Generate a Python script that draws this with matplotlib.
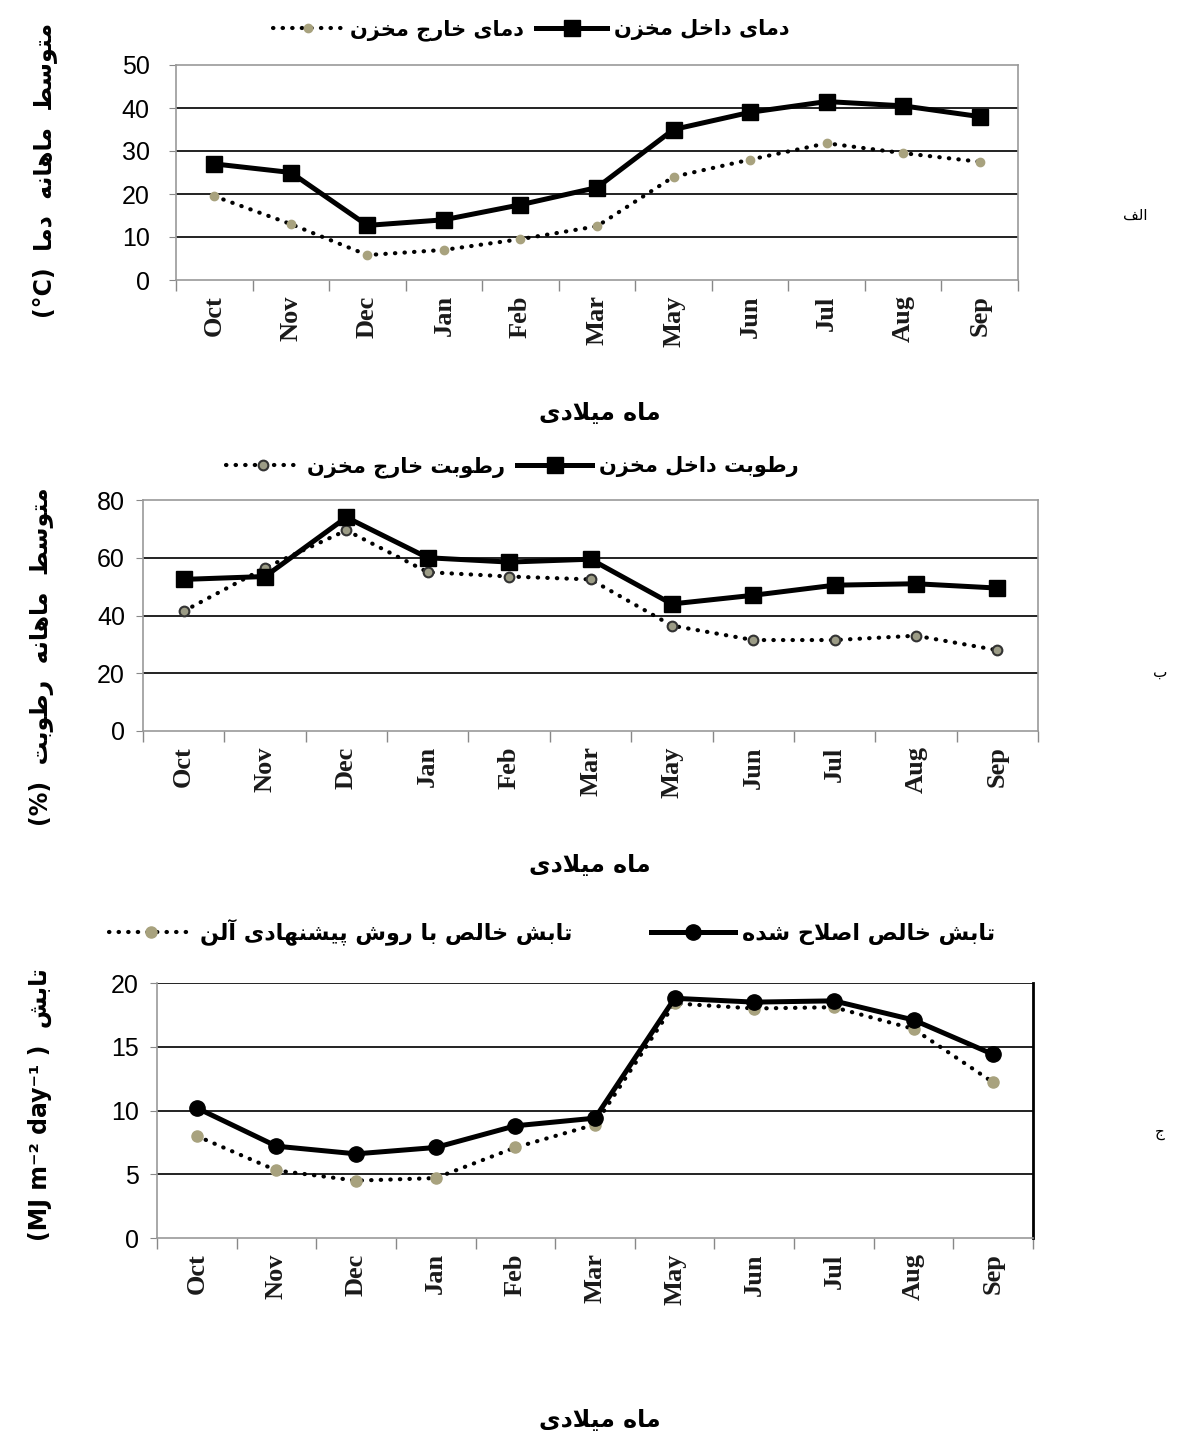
import numpy as np
import matplotlib
matplotlib.use('Agg')
import matplotlib.pyplot as plt
from matplotlib.lines import Line2D

# ---- data ----
months = ['Oct', 'Nov', 'Dec', 'Jan', 'Feb', 'Mar', 'May', 'Jun', 'Jul', 'Aug', 'Sep']

temp_in = [27, 25, 12.7, 14, 17.5, 21.5, 35, 39, 41.5, 40.5, 38]
temp_out = [19.5, 13, 5.8, 7, 9.5, 12.5, 24, 28, 31.8, 29.5, 27.5]
temp_ticks = [0, 10, 20, 30, 40, 50]

hum_in = [52.5, 53.5, 74, 60, 58.5, 59.5, 44, 47, 50.5, 51, 49.5]
hum_out = [41.5, 56.5, 69.5, 55, 53.5, 52.5, 36.5, 31.5, 31.5, 33, 28]
hum_ticks = [0, 20, 40, 60, 80]

rad_corr = [10.2, 7.2, 6.6, 7.1, 8.8, 9.4, 18.8, 18.5, 18.6, 17.1, 14.4]
rad_allen = [8.0, 5.3, 4.5, 4.7, 7.1, 8.9, 18.4, 18.0, 18.1, 16.4, 12.2]
rad_ticks = [0, 5, 10, 15, 20]

# ---- small persian shaper (matplotlib has no rtl shaping) ----
FORMS = {
    '\u0627': ('\uFE8D', '\uFE8E', None, None),
    '\u0622': ('\uFE81', '\uFE82', None, None),
    '\u0628': ('\uFE8F', '\uFE90', '\uFE91', '\uFE92'),
    '\u067E': ('\uFB56', '\uFB57', '\uFB58', '\uFB59'),
    '\u062A': ('\uFE95', '\uFE96', '\uFE97', '\uFE98'),
    '\u062C': ('\uFE9D', '\uFE9E', '\uFE9F', '\uFEA0'),
    '\u062D': ('\uFEA1', '\uFEA2', '\uFEA3', '\uFEA4'),
    '\u062E': ('\uFEA5', '\uFEA6', '\uFEA7', '\uFEA8'),
    '\u062F': ('\uFEA9', '\uFEAA', None, None),
    '\u0631': ('\uFEAD', '\uFEAE', None, None),
    '\u0632': ('\uFEAF', '\uFEB0', None, None),
    '\u0633': ('\uFEB1', '\uFEB2', '\uFEB3', '\uFEB4'),
    '\u0634': ('\uFEB5', '\uFEB6', '\uFEB7', '\uFEB8'),
    '\u0635': ('\uFEB9', '\uFEBA', '\uFEBB', '\uFEBC'),
    '\u0637': ('\uFEC1', '\uFEC2', '\uFEC3', '\uFEC4'),
    '\u0641': ('\uFED1', '\uFED2', '\uFED3', '\uFED4'),
    '\u0644': ('\uFEDD', '\uFEDE', '\uFEDF', '\uFEE0'),
    '\u0645': ('\uFEE1', '\uFEE2', '\uFEE3', '\uFEE4'),
    '\u0646': ('\uFEE5', '\uFEE6', '\uFEE7', '\uFEE8'),
    '\u0647': ('\uFEE9', '\uFEEA', '\uFEEB', '\uFEEC'),
    '\u0648': ('\uFEED', '\uFEEE', None, None),
    '\u06CC': ('\uFBFC', '\uFBFD', '\uFBFE', '\uFBFF'),
}
LAMALEF = {'\u0627': ('\uFEFB', '\uFEFC'), '\u0622': ('\uFEF5', '\uFEF6')}


def shape(text):
    out = []
    prev = False
    i = 0
    while i < len(text):
        c = text[i]
        if c not in FORMS:
            out.append(c)
            prev = False
            i += 1
            continue
        nxt = text[i + 1] if i + 1 < len(text) else ''
        if c == '\u0644' and nxt in LAMALEF:
            out.append(LAMALEF[nxt][1] if prev else LAMALEF[nxt][0])
            prev = False
            i += 2
            continue
        iso, fin, ini, med = FORMS[c]
        left = ini is not None
        nx = left and nxt in FORMS
        if prev and nx:
            out.append(med)
        elif prev:
            out.append(fin)
        elif nx:
            out.append(ini)
        else:
            out.append(iso)
        prev = left
        i += 1
    return ''.join(out)


def fa(text):
    return shape(text)[::-1]


W, H = 1177, 1441
fig = plt.figure(figsize=(W / 100, H / 100), dpi=100)

PFONT = ['DejaVu Sans']
KHAKI = '#a8a27e'
DOTS = (0, (0.1, 2.2))


def px_axes(left, right, top, bottom):
    return fig.add_axes([left / W, 1 - bottom / H, (right - left) / W, (bottom - top) / H])


def setup(ax, ticks, pad, right_black=False):
    x = np.arange(len(months)) + 0.5
    ax.set_xlim(0, len(months))
    ax.set_ylim(ticks[0], ticks[-1])
    ax.set_xticks(x)
    ax.set_xticklabels(months, rotation=90, fontfamily='Liberation Serif',
                       fontweight='bold', fontsize=19, color='#1a1a1a')
    ax.set_xticks(np.arange(len(months) + 1), minor=True)
    ax.tick_params(axis='x', which='major', length=0, pad=11)
    ax.tick_params(axis='x', which='minor', length=8, color='#888', width=1)
    ax.set_yticks(ticks)
    ax.set_yticklabels([str(t) for t in ticks], fontfamily='Liberation Sans', fontsize=18)
    ax.tick_params(axis='y', length=5, color='#888', pad=pad)
    for v in ticks[1:-1]:
        ax.axhline(v, color='#222', lw=1.4, zorder=1)
    for s in ['top', 'left', 'right', 'bottom']:
        ax.spines[s].set_color('#999')
        ax.spines[s].set_linewidth(1.2)
    if right_black:
        ax.spines['right'].set_color('black')
        ax.spines['right'].set_linewidth(2)
    return x


# ---- panel 1: temperature ----
ax1 = px_axes(176, 1018, 65, 280)
x = setup(ax1, temp_ticks, 14)
ax1.plot(x, temp_out, color='black', lw=3, ls=DOTS, dash_capstyle='round',
         marker='o', ms=6, mfc=KHAKI, mec=KHAKI, zorder=3)
ax1.plot(x, temp_in, color='black', lw=3.6, marker='s', ms=11.5, zorder=4)

h_out1 = Line2D([], [], color='black', lw=3, ls=DOTS, dash_capstyle='round',
                marker='o', ms=6, mfc=KHAKI, mec=KHAKI)
h_in1 = Line2D([], [], color='black', lw=3.6, marker='s', ms=11.5)
fig.legend([h_out1, h_in1], [fa('دمای خارج مخزن'), fa('دمای داخل مخزن')],
           loc='center', bbox_to_anchor=(531 / W, 1 - 30 / H), ncol=2, frameon=False,
           handlelength=3.4, handletextpad=0.3, columnspacing=0.6,
           prop={'family': PFONT, 'size': 15, 'weight': 'bold'})

fig.text(45 / W, 1 - 170 / H, '(°C)  ' + fa('متوسط  ماهانه  دما'), rotation=90,
         ha='center', va='center', fontsize=17, fontweight='bold', family=PFONT)
fig.text(600 / W, 1 - 413 / H, fa('ماه میلادی'), ha='center', va='center',
         fontsize=17, fontweight='bold', family=PFONT)
fig.text(1135 / W, 1 - 215 / H, fa('الف'), ha='center', va='center', fontsize=11, family=PFONT)

# ---- panel 2: humidity ----
ax2 = px_axes(143, 1038, 500, 731)
x = setup(ax2, hum_ticks, 8)
ax2.plot(x, hum_out, color='black', lw=3, ls=DOTS, dash_capstyle='round',
         marker='o', ms=7, mfc='#9c9c86', mec='#333', mew=1.5, zorder=3)
ax2.plot(x, hum_in, color='black', lw=3.6, marker='s', ms=11.5, zorder=4)

h_out2 = Line2D([], [], color='black', lw=3, ls=DOTS, dash_capstyle='round',
                marker='o', ms=7, mfc='#9c9c86', mec='#333', mew=1.5)
h_in2 = Line2D([], [], color='black', lw=3.6, marker='s', ms=11.5)
fig.legend([h_out2, h_in2], [fa('رطوبت خارج مخزن'), fa('رطوبت داخل مخزن')],
           loc='center', bbox_to_anchor=(512 / W, 1 - 467 / H), ncol=2, frameon=False,
           handlelength=3.6, handletextpad=0.3, columnspacing=0.6,
           prop={'family': PFONT, 'size': 15, 'weight': 'bold'})

fig.text(42 / W, 1 - 657 / H, '(%)  ' + fa('متوسط  ماهانه  رطوبت'), rotation=90,
         ha='center', va='center', fontsize=17, fontweight='bold', family=PFONT)
fig.text(590 / W, 1 - 865 / H, fa('ماه میلادی'), ha='center', va='center',
         fontsize=17, fontweight='bold', family=PFONT)
fig.text(1160 / W, 1 - 672 / H, fa('ب'), ha='center', va='center', fontsize=11, family=PFONT)

# ---- panel 3: net radiation ----
ax3 = px_axes(157, 1033, 983, 1238)
x = setup(ax3, rad_ticks, 8, right_black=True)
ax3.spines['top'].set_visible(False)
ax3.axhline(rad_ticks[-1], color='#222', lw=1.4, zorder=1)
ax3.plot(x, rad_allen, color='black', lw=3, ls=DOTS, dash_capstyle='round',
         marker='o', ms=8, mfc=KHAKI, mec=KHAKI, zorder=3)
ax3.plot(x, rad_corr, color='black', lw=3.6, marker='o', ms=11, zorder=4)

h_al = Line2D([], [], color='black', lw=3, ls=DOTS, dash_capstyle='round',
              marker='o', ms=8, mfc=KHAKI, mec=KHAKI)
h_co = Line2D([], [], color='black', lw=3.6, marker='o', ms=11)
fig.legend([h_al, h_co], [fa('تابش خالص با روش پیشنهادی آلن'), fa('تابش خالص اصلاح شده')],
           loc='center', bbox_to_anchor=(552 / W, 1 - 932 / H), ncol=2, frameon=False,
           handlelength=3.8, handletextpad=0.3, columnspacing=3.5,
           prop={'family': PFONT, 'size': 16, 'weight': 'bold'})

fig.text(40 / W, 1 - 1105 / H, '(MJ m⁻² day⁻¹ )  ' + fa('تابش'), rotation=90,
         ha='center', va='center', fontsize=17, fontweight='bold', family=PFONT)
fig.text(600 / W, 1 - 1420 / H, fa('ماه میلادی'), ha='center', va='center',
         fontsize=17, fontweight='bold', family=PFONT)
fig.text(1160 / W, 1 - 1133 / H, fa('ج'), ha='center', va='center', fontsize=11, family=PFONT)

plt.savefig('out.png', dpi=100)
